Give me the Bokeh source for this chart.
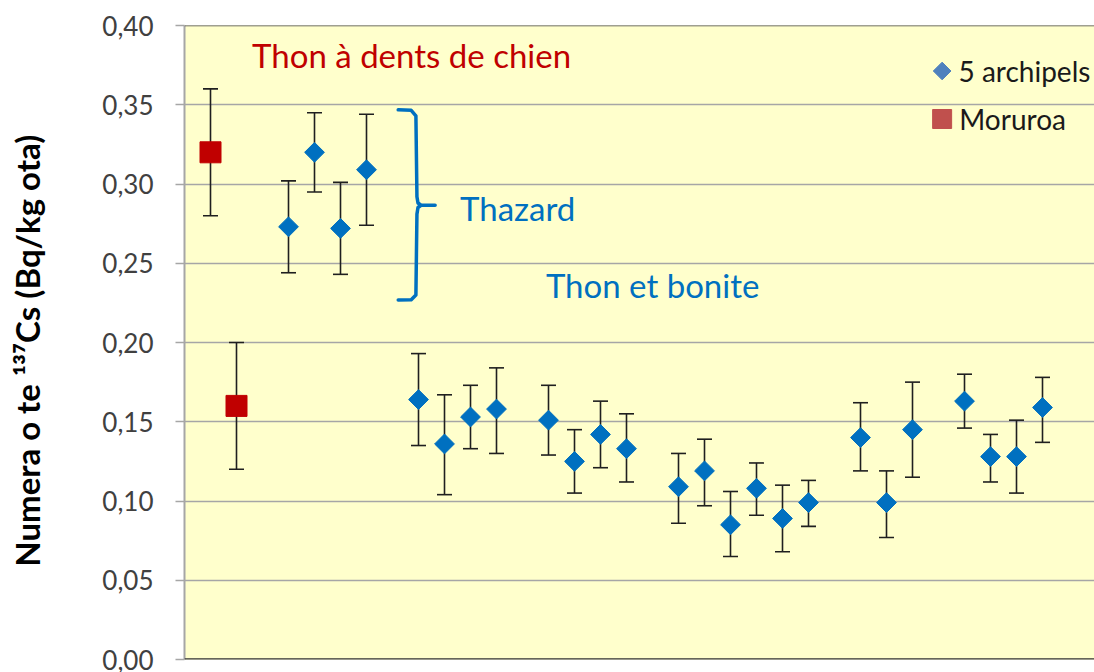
import math
from bokeh.plotting import figure
from bokeh.models import ColumnDataSource, Whisker, TeeHead, Span, CustomJSTickFormatter, FixedTicker, Range1d
from bokeh.core.properties import value
from bokeh.embed import file_html
from bokeh.resources import INLINE

# ---- data ----
moruroa_x = [1, 2]
moruroa_y = [0.320, 0.160]
moruroa_hi = [0.360, 0.200]
moruroa_lo = [0.280, 0.120]

arch_x = [4, 5, 6, 7, 9, 10, 11, 12, 14, 15, 16, 17, 19, 20, 21, 22, 23, 24, 26, 27, 28, 30, 31, 32, 33]
arch_y = [0.273, 0.320, 0.272, 0.309, 0.164, 0.136, 0.153, 0.158, 0.151, 0.125, 0.142, 0.133,
          0.109, 0.119, 0.085, 0.108, 0.089, 0.099, 0.140, 0.099, 0.145, 0.163, 0.128, 0.128, 0.159]
arch_hi = [0.302, 0.345, 0.301, 0.344, 0.193, 0.167, 0.173, 0.184, 0.173, 0.145, 0.163, 0.155,
           0.130, 0.139, 0.106, 0.124, 0.110, 0.113, 0.162, 0.119, 0.175, 0.180, 0.142, 0.151, 0.178]
arch_lo = [0.244, 0.295, 0.243, 0.274, 0.135, 0.104, 0.133, 0.130, 0.129, 0.105, 0.121, 0.112,
           0.086, 0.097, 0.065, 0.091, 0.068, 0.084, 0.119, 0.077, 0.115, 0.146, 0.112, 0.105, 0.137]

y_ticks = [0.0, 0.05, 0.10, 0.15, 0.20, 0.25, 0.30, 0.35, 0.40]
y_title = "Numera o te \u00b9\u00b3\u2077Cs (Bq/kg ota)\u2002"
label_dogtooth = "Thon à dents de chien"
label_thazard = "Thazard"
label_tuna = "Thon et bonite"
legend_labels = ["5 archipels", "Moruroa"]

FONT = "Lato"

p = figure(width=1094, height=672, output_backend="svg", toolbar_location=None,
           x_range=Range1d(0, 35.0), y_range=Range1d(0, 0.4),
           min_border_left=184, min_border_top=25, min_border_bottom=13, min_border_right=0)
p.background_fill_color = "#FFFFCC"
p.border_fill_color = "white"
p.outline_line_color = None

p.xaxis.visible = False
p.xgrid.visible = False
p.ygrid.ticker = FixedTicker(ticks=y_ticks)
p.ygrid.grid_line_color = "#A6A6A6"
p.ygrid.grid_line_width = 1.5

p.yaxis.ticker = FixedTicker(ticks=y_ticks)
p.yaxis.formatter = CustomJSTickFormatter(code="return tick.toFixed(2).replace('.', ',');")
p.yaxis.major_label_text_font = FONT
p.yaxis.major_label_text_font_size = "26px"
p.yaxis.major_label_text_color = "#404040"
p.yaxis.axis_line_color = "#A6A6A6"
p.yaxis.axis_line_width = 2
p.yaxis.major_tick_line_color = "#A6A6A6"
p.yaxis.major_tick_line_width = 1.5
p.yaxis.major_tick_out = 9
p.yaxis.major_tick_in = 0
p.yaxis.minor_tick_out = 0
p.yaxis.minor_tick_in = 0
p.yaxis.major_label_standoff = 22
p.yaxis.axis_label = y_title
p.yaxis.axis_label_text_font = FONT
p.yaxis.axis_label_text_font_style = "bold"
p.yaxis.axis_label_text_font_size = "33px"
p.yaxis.axis_label_text_color = "black"
p.yaxis.axis_label_standoff = 52

p.add_layout(Span(location=0, dimension="width", line_color="#333333", line_width=2.5))
p.add_layout(Span(location=0.4, dimension="width", line_color="#404040", line_width=1.5))

src_a = ColumnDataSource(dict(x=arch_x, y=arch_y, hi=arch_hi, lo=arch_lo))
src_m = ColumnDataSource(dict(x=moruroa_x, y=moruroa_y, hi=moruroa_hi, lo=moruroa_lo))

for src in (src_m, src_a):
    w = Whisker(base="x", upper="hi", lower="lo", source=src,
                line_color="#1f1f1f", line_width=1.6,
                upper_head=TeeHead(size=15, line_color="#1f1f1f", line_width=1.6),
                lower_head=TeeHead(size=15, line_color="#1f1f1f", line_width=1.6))
    p.add_layout(w)

p.scatter("x", "y", source=src_m, marker="square", size=21, color="#C00000")
p.scatter("x", "y", source=src_a, marker="square", size=14, angle=math.pi / 4, color="#0070C0")

# bracket
bx = [8.22, 8.72, 8.90, 8.94, 8.98, 9.10, 9.64, 9.10, 8.98, 8.94, 8.90, 8.72, 8.22]
by = [0.3468, 0.3465, 0.3430, 0.2920, 0.2880, 0.2866, 0.2866, 0.2866, 0.2852, 0.2810, 0.2300, 0.2270, 0.2268]
p.line(bx, by, line_color="#0070C0", line_width=3.5, line_join="round", line_cap="round")

p.text(x=[2.6], y=[0.3815], text=[label_dogtooth], text_font=value(FONT), text_font_size="33px",
       text_color="#C00000", text_baseline="alphabetic")
p.text(x=[10.6], y=[0.2847], text=[label_thazard], text_font=value(FONT), text_font_size="33px",
       text_color="#0070C0", text_baseline="alphabetic")
p.text(x=[13.9], y=[0.2363], text=[label_tuna], text_font=value(FONT), text_font_size="33px",
       text_color="#0070C0", text_baseline="alphabetic")

# legend
p.scatter([29.14], [0.3713], marker="square", size=12.5, angle=math.pi / 4, color="#4F81BD")
p.scatter([29.14], [0.3410], marker="square", size=19, color="#C0504D")
p.text(x=[29.77, 29.8], y=[0.3716, 0.3410], text=legend_labels, text_font=value(FONT),
       text_font_size="28px", text_color="#1a1a1a", text_baseline="alphabetic")

open("out.html", "w").write(file_html(p, INLINE))
